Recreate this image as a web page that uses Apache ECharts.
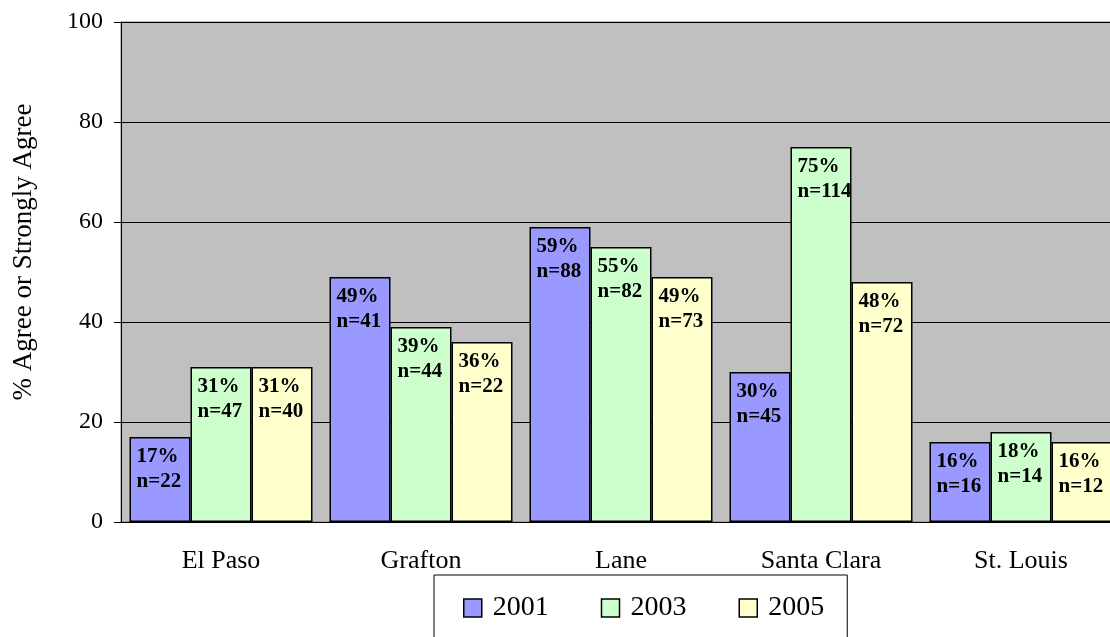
<!DOCTYPE html>
<html>
<head>
<meta charset="utf-8">
<script src="https://cdn.jsdelivr.net/npm/echarts@6/dist/echarts.min.js"></script>
<style>
html, body { margin: 0; padding: 0; background: #fff; }
#chart { width: 1110px; height: 637px; }
</style>
</head>
<body>
<div id="chart"></div>
<script>
// data
var sites = ['El Paso', 'Grafton', 'Lane', 'Santa Clara', 'St. Louis'];
var years = ['2001', '2003', '2005'];
var pct2001 = [17, 49, 59, 30, 16];
var pct2003 = [31, 39, 55, 75, 18];
var pct2005 = [31, 36, 49, 48, 16];
var n2001 = [22, 41, 88, 45, 16];
var n2003 = [47, 44, 82, 114, 14];
var n2005 = [40, 22, 73, 72, 12];
var yTicks = [0, 20, 40, 60, 80, 100];

var serif = "'Liberation Serif', 'Times New Roman', serif";
var colors = ['#9999FF', '#CCFFCC', '#FFFFCC'];

function makeSeries(name, vals, ns, color) {
    var data = [];
    for (var i = 0; i < vals.length; i++) {
        data.push({ value: vals[i], n: ns[i] });
    }
    return {
        name: name,
        type: 'bar',
        data: data,
        barWidth: 61,
        barGap: '0%',
        itemStyle: { color: color, borderColor: '#000', borderWidth: 1.5 },
        label: {
            show: true,
            position: 'insideTopLeft',
            distance: 7,
            fontFamily: serif,
            fontWeight: 'bold',
            fontSize: 21,
            lineHeight: 25,
            color: '#000',
            formatter: function (p) {
                return p.value + '%\nn=' + p.data.n;
            }
        }
    };
}

var chart = echarts.init(document.getElementById('chart'));
chart.setOption({
    animation: false,
    color: colors,
    grid: {
        left: 121, top: 22, width: 1000, height: 500,
        outerBoundsMode: 'none',
        show: true, backgroundColor: '#C0C0C0',
        borderColor: '#808080', borderWidth: 1
    },
    legend: {
        left: 434, top: 575,
        padding: [19, 23, 22, 29],
        borderColor: '#000', borderWidth: 1,
        backgroundColor: '#fff',
        itemWidth: 18, itemHeight: 18, itemGap: 52,
        icon: 'rect',
        textStyle: { fontFamily: serif, fontSize: 28, color: '#000', padding: [0, 0, 0, 6] },
        data: years.map(function (y, i) {
            return { name: y, itemStyle: { color: colors[i], borderColor: '#000', borderWidth: 1.5 } };
        })
    },
    xAxis: {
        type: 'category',
        data: sites,
        axisLine: { lineStyle: { color: '#000', width: 1 } },
        axisTick: { length: 7, lineStyle: { color: '#000' } },
        axisLabel: { fontFamily: serif, fontSize: 26, color: '#000', margin: 26 }
    },
    yAxis: {
        type: 'value',
        min: yTicks[0], max: yTicks[yTicks.length - 1], interval: 20,
        name: '% Agree or Strongly Agree',
        nameLocation: 'middle',
        nameGap: 84,
        nameTextStyle: { fontFamily: serif, fontSize: 27, color: '#000', padding: [0, 0, 0, 40] },
        axisLine: { show: true, lineStyle: { color: '#000', width: 1 } },
        axisTick: { show: true, length: 7, lineStyle: { color: '#000' } },
        axisLabel: { fontFamily: serif, fontSize: 24, color: '#000', margin: 18 },
        splitLine: { lineStyle: { color: '#000', width: 1 } }
    },
    series: [
        makeSeries(years[0], pct2001, n2001, colors[0]),
        makeSeries(years[1], pct2003, n2003, colors[1]),
        makeSeries(years[2], pct2005, n2005, colors[2])
    ]
});
</script>
</body>
</html>
